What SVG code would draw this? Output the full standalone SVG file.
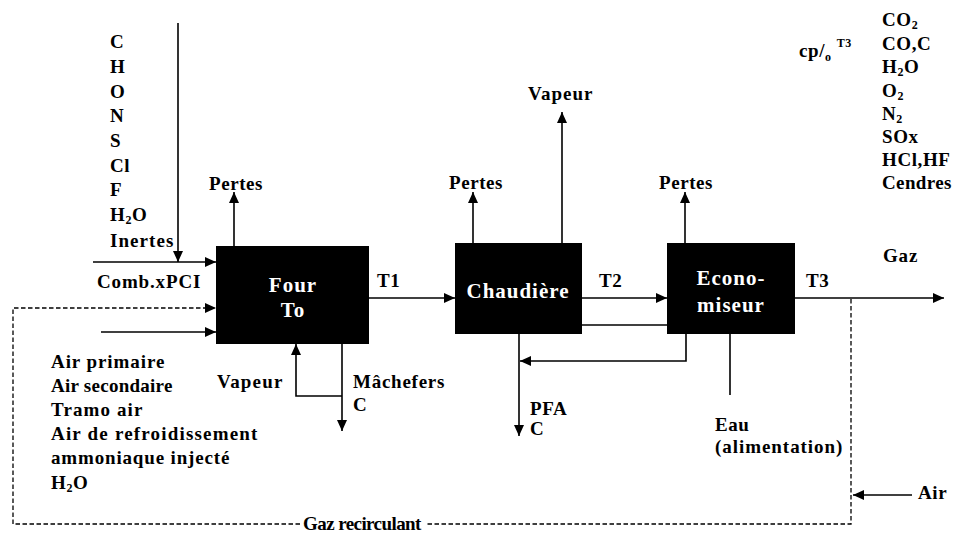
<svg xmlns="http://www.w3.org/2000/svg" width="954" height="536" viewBox="0 0 954 536">
  <style>
    .t { font-family: "Liberation Serif", "Times New Roman", serif; font-weight: bold; font-size: 19px; fill: #000; letter-spacing: 0.6px; }
    .box { fill: #000; }
    .bl { font-family: "Liberation Serif", "Times New Roman", serif; font-weight: bold; font-size: 21px; fill: #fff; letter-spacing: 1px; text-anchor: middle; }
    .ln { fill: none; stroke: #000; stroke-width: 1.6; }
    .dash { fill: none; stroke: #000; stroke-width: 1.3; stroke-dasharray: 4.5 2.5; }
    .sub { font-size: 12px; }
  </style>
  <defs>
    <marker id="arr" markerUnits="userSpaceOnUse" markerWidth="12" markerHeight="10" refX="11" refY="5" orient="auto">
      <path d="M0,0 L11,5 L0,10 z" fill="#000"/>
    </marker>
  </defs>
  <rect width="954" height="536" fill="#fff"/>

  <!-- process units -->
  <g id="four">
    <rect class="box" x="216" y="246" width="153" height="98"/>
    <text class="bl" x="293" y="292">Four</text>
    <text class="bl" x="293" y="317">To</text>
  </g>
  <g id="chaudiere">
    <rect class="box" x="455" y="243" width="127" height="91"/>
    <text class="bl" x="518" y="298" textLength="103">Chaudière</text>
  </g>
  <g id="economiseur">
    <rect class="box" x="667" y="243" width="128" height="91"/>
    <text class="bl" x="731" y="285">Econo-</text>
    <text class="bl" x="731" y="312">miseur</text>
  </g>

  <!-- flows -->
  <g id="connectors">
    <!-- fuel feed -->
    <line class="ln" x1="178" y1="23" x2="178" y2="262" marker-end="url(#arr)"/>
    <line class="ln" x1="93" y1="262" x2="216" y2="262" marker-end="url(#arr)"/>
    <!-- air feed -->
    <line class="ln" x1="101" y1="332" x2="216" y2="332" marker-end="url(#arr)"/>
    <!-- recirculated gas loop -->
    <polyline class="dash" points="851,299 851,524 425,524"/>
    <polyline class="dash" points="300,524 13,524 13,308 216,308" marker-end="url(#arr)"/>
    <!-- air make-up into loop -->
    <line class="ln" x1="912" y1="495" x2="853" y2="495" marker-end="url(#arr)" style="stroke-width:1.3"/>
    <!-- losses -->
    <line class="ln" x1="234" y1="246" x2="234" y2="192" marker-end="url(#arr)"/>
    <line class="ln" x1="473" y1="243" x2="473" y2="192" marker-end="url(#arr)"/>
    <line class="ln" x1="685" y1="243" x2="685" y2="192" marker-end="url(#arr)"/>
    <!-- steam out of boiler -->
    <line class="ln" x1="562" y1="243" x2="562" y2="112" marker-end="url(#arr)"/>
    <!-- furnace bottom: steam in, bottom ash out -->
    <polyline class="ln" points="342,396 296,396 296,344" marker-end="url(#arr)"/>
    <line class="ln" x1="342" y1="344" x2="342" y2="431" marker-end="url(#arr)"/>
    <!-- gas path -->
    <line class="ln" x1="369" y1="298" x2="455" y2="298" marker-end="url(#arr)"/>
    <line class="ln" x1="582" y1="298" x2="667" y2="298" marker-end="url(#arr)"/>
    <line class="ln" x1="582" y1="325" x2="667" y2="325"/>
    <line class="ln" x1="795" y1="298" x2="944" y2="298" marker-end="url(#arr)"/>
    <!-- fly ash -->
    <polyline class="ln" points="686,334 686,361 520,361" marker-end="url(#arr)"/>
    <line class="ln" x1="519" y1="334" x2="519" y2="436" marker-end="url(#arr)"/>
    <!-- feed water -->
    <line class="ln" x1="730" y1="334" x2="730" y2="395"/>
  </g>

  <!-- fuel composition -->
  <g id="fuel-label">
    <text class="t" x="110" y="48">C</text>
    <text class="t" x="110" y="73">H</text>
    <text class="t" x="110" y="98">O</text>
    <text class="t" x="110" y="122">N</text>
    <text class="t" x="110" y="147">S</text>
    <text class="t" x="110" y="172">Cl</text>
    <text class="t" x="110" y="196">F</text>
    <text class="t" x="110" y="221">H<tspan class="sub" dy="3">2</tspan><tspan dy="-3">O</tspan></text>
    <text class="t" x="110" y="247" textLength="64">Inertes</text>
    <text class="t" x="97" y="288" textLength="104">Comb.xPCI</text>
  </g>

  <!-- air inputs -->
  <g id="air-label">
    <text class="t" x="51" y="368" textLength="114">Air primaire</text>
    <text class="t" x="51" y="392" textLength="122">Air secondaire</text>
    <text class="t" x="51" y="416" textLength="92">Tramo air</text>
    <text class="t" x="51" y="440" textLength="207">Air de refroidissement</text>
    <text class="t" x="51" y="464" textLength="179">ammoniaque injecté</text>
    <text class="t" x="51" y="489">H<tspan class="sub" dy="3">2</tspan><tspan dy="-3">O</tspan></text>
  </g>

  <!-- stream labels -->
  <g id="stream-labels">
    <text class="t" x="209" y="190" textLength="54">Pertes</text>
    <text class="t" x="449" y="189" textLength="54">Pertes</text>
    <text class="t" x="659" y="189" textLength="54">Pertes</text>
    <text class="t" x="528" y="100" textLength="65">Vapeur</text>
    <text class="t" x="217" y="388" textLength="66">Vapeur</text>
    <text class="t" x="353" y="388" textLength="92">Mâchefers</text>
    <text class="t" x="353" y="411">C</text>
    <text class="t" x="377" y="287">T1</text>
    <text class="t" x="599" y="287">T2</text>
    <text class="t" x="806" y="287">T3</text>
    <text class="t" x="883" y="262" textLength="35">Gaz</text>
    <text class="t" x="530" y="415">PFA</text>
    <text class="t" x="530" y="435">C</text>
    <text class="t" x="715" y="431">Eau</text>
    <text class="t" x="715" y="453" textLength="128">(alimentation)</text>
    <text class="t" x="918" y="499">Air</text>
    <text class="t" x="303" y="530" textLength="119">Gaz recirculant</text>
  </g>

  <!-- flue gas composition -->
  <g id="gas-label">
    <text class="t" x="799" y="57">cp/<tspan class="sub" dy="4">o</tspan><tspan class="sub" dx="5" dy="-14">T3</tspan></text>
    <text class="t" x="882" y="26">CO<tspan class="sub" dy="3">2</tspan></text>
    <text class="t" x="882" y="50">CO,C</text>
    <text class="t" x="882" y="73">H<tspan class="sub" dy="3">2</tspan><tspan dy="-3">O</tspan></text>
    <text class="t" x="882" y="97">O<tspan class="sub" dy="3">2</tspan></text>
    <text class="t" x="882" y="120">N<tspan class="sub" dy="3">2</tspan></text>
    <text class="t" x="882" y="143">SOx</text>
    <text class="t" x="882" y="166">HCl,HF</text>
    <text class="t" x="882" y="189" textLength="70">Cendres</text>
  </g>
</svg>
